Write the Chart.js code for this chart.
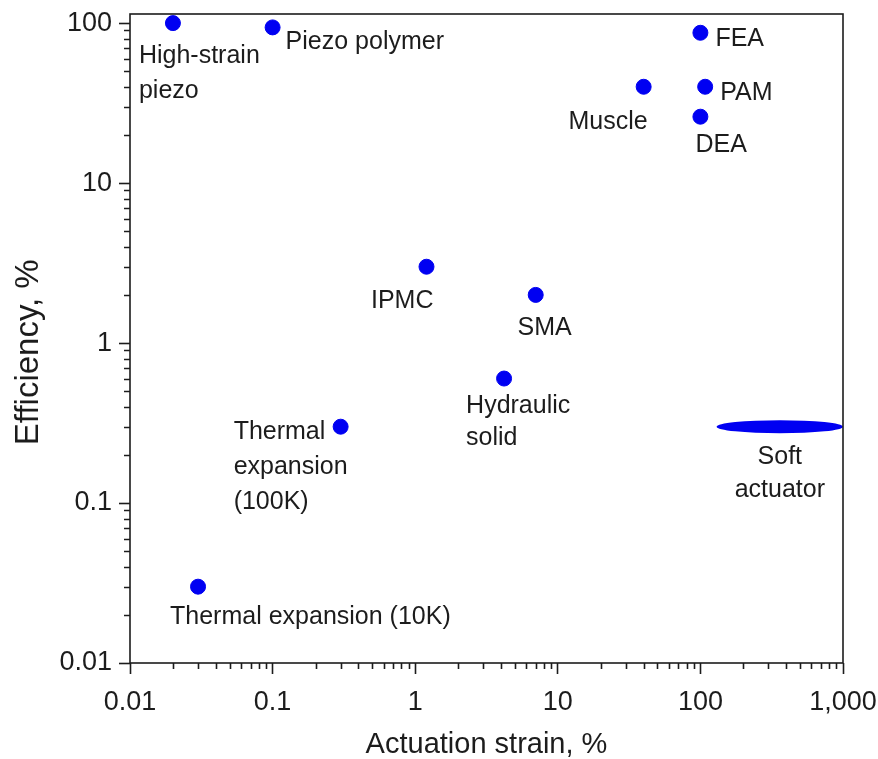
<!DOCTYPE html>
<html>
<head>
<meta charset="utf-8">
<script src="https://cdn.jsdelivr.net/npm/chart.js@4"></script>
<style>
  html, body { margin: 0; padding: 0; background: #fff; }
  #wrap { width: 878px; height: 759px; }
</style>
</head>
<body>
<div id="wrap"><canvas id="myChart" width="878" height="759"></canvas></div>
<script>
// actuator technologies: strain (%) vs efficiency (%)
const materials = [
  'High-strain\npiezo', 'Piezo polymer', 'FEA', 'Muscle', 'PAM', 'DEA',
  'IPMC', 'SMA', 'Hydraulic\nsolid', 'Thermal\nexpansion\n(100K)', 'Thermal expansion (10K)'
];
const strain = [0.02, 0.1, 100, 40, 108, 100, 1.2, 7, 4.2, 0.3, 0.03];
const efficiency = [100, 94, 87, 40, 40, 26, 3, 2, 0.6, 0.3, 0.03];

// soft actuators cover a band of strain at roughly constant efficiency
const softName = 'Soft\nactuator';
const softStrain = [130, 1000];
const softEfficiency = 0.3;

const xTickLabels = ['0.01', '0.1', '1', '10', '100', '1,000'];
const yTickLabels = ['0.01', '0.1', '1', '10', '100'];

// where each label sits relative to its dot (px)
const labelPlace = [
  { align: 'left', dx: -34, dy: 33, gap: 35 },
  { align: 'left', dx: 13, dy: 15 },
  { align: 'left', dx: 15, dy: 6 },
  { align: 'right', dx: 4, dy: 35 },
  { align: 'left', dx: 15, dy: 6 },
  { align: 'left', dx: -5, dy: 28 },
  { align: 'right', dx: 7, dy: 34 },
  { align: 'center', dx: 9, dy: 33 },
  { align: 'left', dx: -38, dy: 28, gap: 32 },
  { align: 'left', dx: -107, dy: 5, gap: 35 },
  { align: 'left', dx: -28, dy: 30 }
];

const FONT = '"Liberation Sans", Arial, Helvetica, sans-serif';
const INK = '#1c1c1c';
const BLUE = '#0000f2';

function decadeTicks(lo, hi) {
  const out = [];
  for (let e = lo; e <= hi; e++) {
    for (let m = 1; m <= 9; m++) {
      const v = m * Math.pow(10, e);
      out.push({ value: v, major: m === 1 });
    }
  }
  return out;
}

function tickText(labels) {
  return function (value, index, ticks) {
    const t = ticks[index];
    if (!t.major) return '';
    const e = Math.round(Math.log10(value));
    return labels[e + 2];
  };
}

// frame + minor ticks
const framePlugin = {
  id: 'frame',
  afterDraw(chart) {
    const { ctx, chartArea: a, scales } = chart;
    ctx.save();
    ctx.strokeStyle = INK;
    ctx.lineWidth = 1.6;
    ctx.strokeRect(a.left, a.top, a.right - a.left, a.bottom - a.top);
    ctx.beginPath();
    scales.x.ticks.forEach(t => {
      if (t.major) return;
      const px = Math.round(scales.x.getPixelForValue(t.value)) + 0.5;
      ctx.moveTo(px, a.bottom);
      ctx.lineTo(px, a.bottom + 6);
    });
    scales.y.ticks.forEach(t => {
      if (t.major) return;
      const py = Math.round(scales.y.getPixelForValue(t.value)) + 0.5;
      ctx.moveTo(a.left, py);
      ctx.lineTo(a.left - 6, py);
    });
    ctx.stroke();
    ctx.restore();
  }
};

// names next to the dots, and the soft actuator band
const labelPlugin = {
  id: 'pointLabels',
  afterDatasetsDraw(chart) {
    const { ctx, scales } = chart;
    const meta = chart.getDatasetMeta(0);
    ctx.save();
    ctx.font = '25px ' + FONT;
    ctx.fillStyle = INK;
    ctx.textBaseline = 'middle';
    meta.data.forEach((pt, i) => {
      const p = labelPlace[i];
      const lines = materials[i].split('\n');
      ctx.textAlign = p.align;
      lines.forEach((ln, k) => {
        ctx.fillText(ln, pt.x + p.dx, pt.y + p.dy + k * (p.gap || 34));
      });
    });

    const x0 = scales.x.getPixelForValue(softStrain[0]);
    const x1 = scales.x.getPixelForValue(softStrain[1]);
    const yc = scales.y.getPixelForValue(softEfficiency);
    const xc = (x0 + x1) / 2;
    ctx.fillStyle = BLUE;
    ctx.beginPath();
    ctx.ellipse(xc, yc, (x1 - x0) / 2, 6.5, 0, 0, Math.PI * 2);
    ctx.fill();

    ctx.fillStyle = INK;
    ctx.textAlign = 'center';
    softName.split('\n').forEach((ln, k) => {
      ctx.fillText(ln, xc, yc + 30 + k * 33);
    });
    ctx.restore();
  }
};

const ctx = document.getElementById('myChart');

new Chart(ctx, {
  type: 'scatter',
  data: {
    datasets: [{
      data: strain.map((s, i) => ({ x: s, y: efficiency[i] })),
      backgroundColor: BLUE,
      borderColor: BLUE,
      pointRadius: 7.5,
      pointHoverRadius: 7.5
    }]
  },
  options: {
    responsive: false,
    animation: false,
    events: [],
    layout: { padding: { left: 0, right: 35, top: 14, bottom: 0 } },
    plugins: {
      legend: { display: false },
      tooltip: { enabled: false }
    },
    scales: {
      x: {
        type: 'logarithmic',
        min: 0.01,
        max: 1000,
        afterBuildTicks: s => { s.ticks = decadeTicks(-2, 3).filter(t => t.value <= 1000); },
        afterFit: s => { s.height = 96; s.paddingLeft = 0; s.paddingRight = 0; },
        grid: {
          drawOnChartArea: false,
          tickLength: 11,
          tickWidth: 1.6,
          tickColor: c => (c.tick && c.tick.major ? INK : 'rgba(0,0,0,0)')
        },
        border: { display: false },
        ticks: {
          autoSkip: false,
          maxRotation: 0,
          padding: 12,
          color: INK,
          font: { family: FONT, size: 27 },
          callback: tickText(xTickLabels)
        },
        title: {
          display: true,
          text: 'Actuation strain, %',
          color: INK,
          font: { family: FONT, size: 29, lineHeight: 1 },
          padding: { top: 0, bottom: 0 }
        }
      },
      y: {
        type: 'logarithmic',
        min: 0.01,
        max: 114,
        afterBuildTicks: s => { s.ticks = decadeTicks(-2, 2).filter(t => t.value <= 114); },
        afterFit: s => { s.width = 130; s.paddingTop = 0; s.paddingBottom = 0; },
        grid: {
          drawOnChartArea: false,
          tickLength: 11,
          tickWidth: 1.6,
          tickColor: c => (c.tick && c.tick.major ? INK : 'rgba(0,0,0,0)')
        },
        border: { display: false },
        ticks: {
          autoSkip: false,
          padding: 7,
          color: INK,
          font: { family: FONT, size: 27 },
          callback: tickText(yTickLabels)
        },
        title: {
          display: true,
          // trailing spaces nudge the rotated title toward the bottom
          text: 'Efficiency, %\u00a0\u00a0\u00a0',
          color: INK,
          font: { family: FONT, size: 33, lineHeight: 1 },
          padding: { top: 12, bottom: 0 }
        }
      }
    }
  },
  plugins: [framePlugin, labelPlugin]
});
</script>
</body>
</html>
